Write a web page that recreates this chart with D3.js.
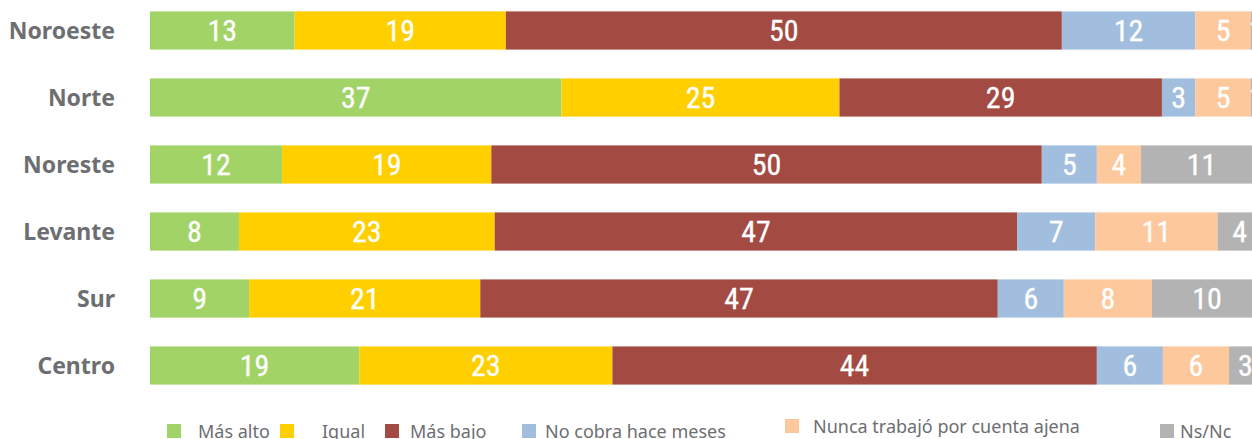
<!DOCTYPE html>
<html>
<head>
<meta charset="utf-8">
<script src="https://cdn.jsdelivr.net/npm/d3@7"></script>
<style>
  body { margin: 0; background: #fff; }
  svg { display: block; }
</style>
</head>
<body>
<svg width="1252" height="439"></svg>
<script>
"use strict";

// regions, top to bottom
const regions = ["Noroeste", "Norte", "Noreste", "Levante", "Sur", "Centro"];
const seriesNames = ["Más alto", "Igual", "Más bajo", "No cobra hace meses", "Nunca trabajó por cuenta ajena", "Ns/Nc"];
const masAlto = [13, 37, 12, 8, 9, 19];
const igual = [19, 25, 19, 23, 21, 23];
const masBajo = [50, 29, 50, 47, 47, 44];
const noCobra = [12, 3, 5, 7, 6, 6];
const nunca = [5, 5, 4, 11, 8, 6];
const nsnc = [1, 1, 11, 4, 10, 3];
const colors = ["#a2d367", "#ffcf00", "#a34a42", "#a1bedf", "#fdc89c", "#b3b3b3"];

const svg = d3.select("svg");
const seriesValues = [masAlto, igual, masBajo, noCobra, nunca, nsnc];

const rows = regions.map((r, i) => {
    const row = { region: r };
    seriesNames.forEach((s, j) => { row[s] = seriesValues[j][i]; });
    return row;
});

// each row stretched to 100%
const stack = d3.stack().keys(seriesNames).offset(d3.stackOffsetExpand)(rows);

const x = d3.scaleLinear().domain([0, 1]).range([150, 1262]);
const y = d3.scaleBand().domain(regions).range([-2, 398]).paddingInner(0.43).paddingOuter(0.2);

const g = svg.append("g");

const layer = g.selectAll(".layer")
    .data(stack)
    .enter().append("g")
    .attr("class", "layer")
    .attr("fill", (d, i) => colors[i]);

layer.selectAll("rect")
    .data(d => d)
    .enter().append("rect")
    .attr("x", d => x(d[0]))
    .attr("y", d => y(d.data.region))
    .attr("width", d => x(d[1]) - x(d[0]))
    .attr("height", y.bandwidth());

layer.selectAll("text")
    .data(d => d.map(v => Object.assign(v, { key: d.key })))
    .enter().append("text")
    .attr("x", d => (x(d[0]) + x(d[1])) / 2)
    .attr("y", d => y(d.data.region) + y.bandwidth() / 2)
    .attr("dy", "0.36em")
    .attr("text-anchor", "middle")
    .attr("fill", "#fff")
    .attr("stroke", "#fff")
    .attr("stroke-width", 0.3)
    .style("font-family", "'Liberation Sans Narrow', 'Roboto Condensed', 'DejaVu Sans Condensed', sans-serif")
    .style("font-stretch", "condensed")
    .style("font-size", "30px")
    .text(d => d.data[d.key]);

// region labels
g.selectAll(".region")
    .data(regions)
    .enter().append("text")
    .attr("class", "region")
    .attr("x", 115)
    .attr("y", d => y(d) + y.bandwidth() / 2)
    .attr("dy", "0.36em")
    .attr("text-anchor", "end")
    .attr("fill", "#6d6e71")
    .style("font-family", "'Noto Sans', sans-serif")
    .style("font-weight", "bold")
    .style("font-size", "23px")
    .text(d => d);

// legend
const legendX = [167, 280, 385, 522, 785, 1160];
const legend = svg.append("g").attr("class", "legend")
    .selectAll("g")
    .data(seriesNames)
    .enter().append("g")
    .attr("transform", (d, i) => "translate(" + legendX[i] + "," + (i === 4 ? 419 : 424) + ")");

legend.append("rect")
    .attr("width", 14)
    .attr("height", 14)
    .attr("fill", (d, i) => colors[i]);

legend.append("text")
    .attr("x", (d, i) => [31, 42, 25, 23, 28, 20][i])
    .attr("y", 14)
    .attr("fill", "#6d6e71")
    .style("font-family", "'Noto Sans', sans-serif")
    .style("font-size", "18px")
    .text(d => d);
</script>
</body>
</html>
